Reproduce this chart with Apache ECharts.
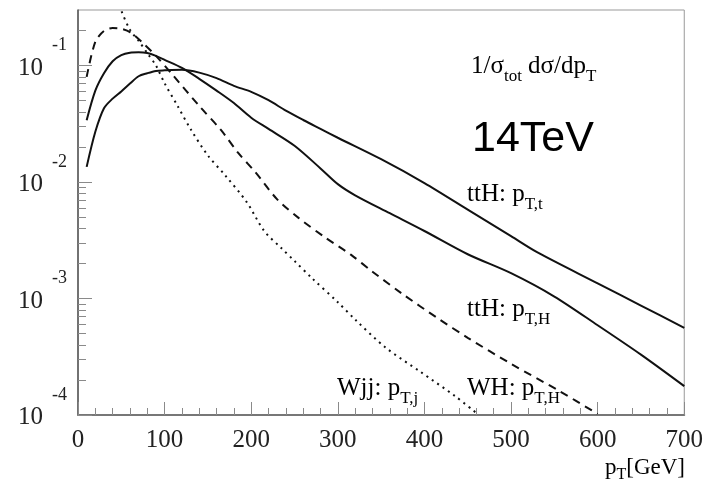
<!DOCTYPE html>
<html>
<head>
<meta charset="utf-8">
<script src="https://cdn.jsdelivr.net/npm/echarts@6/dist/echarts.min.js"></script>
<style>
  html, body { margin: 0; padding: 0; background: #fff; }
  #chart { width: 706px; height: 484px; }
</style>
</head>
<body>
<div id="chart"></div>
<script>
// ---- data ----
// ttH: p_T,t (harder solid curve)
const topX = [10, 20, 30, 40, 50, 60, 70, 80, 90, 100, 120, 140, 160, 180, 200, 220, 240, 260, 280, 300, 350, 400, 450, 500, 530, 600, 650, 700];
const topY = [0.0135, 0.027, 0.043, 0.052, 0.060, 0.070, 0.081, 0.086, 0.090, 0.091, 0.092, 0.087, 0.078, 0.067, 0.0595, 0.0504, 0.041, 0.0341, 0.0286, 0.024, 0.0157, 0.0098, 0.0058, 0.00343, 0.0025, 0.00135, 0.00087, 0.00056];
// ttH: p_T,H (softer solid curve)
const higgsX = [10, 20, 30, 40, 50, 60, 70, 80, 90, 100, 120, 140, 160, 180, 200, 220, 250, 280, 300, 320, 360, 400, 450, 500, 550, 600, 650, 700];
const higgsY = [0.034, 0.061, 0.086, 0.109, 0.123, 0.129, 0.130, 0.128, 0.121, 0.112, 0.0955, 0.077, 0.061, 0.0477, 0.0357, 0.0286, 0.0205, 0.0131, 0.0096, 0.0077, 0.0054, 0.0038, 0.0024, 0.00165, 0.00104, 0.00059, 0.00033, 0.000177];
// WH: p_T,H (dashed)
const whX = [10, 20, 30, 40, 50, 60, 75, 90, 110, 140, 165, 185, 205, 230, 255, 285, 315, 340, 375, 415, 450, 500, 555, 600];
const whY = [0.080, 0.160, 0.198, 0.210, 0.207, 0.194, 0.156, 0.121, 0.082, 0.045, 0.028, 0.0178, 0.0121, 0.0071, 0.0049, 0.00336, 0.00238, 0.00170, 0.00109, 0.00068, 0.00046, 0.000275, 0.000162, 0.000102];
// Wjj: p_T,j (dotted)
const wjjX = [45, 50, 60, 70, 80, 90, 100, 115, 130, 150, 170, 195, 215, 235, 250, 270, 300, 320, 355, 395, 435, 460];
const wjjY = [0.37, 0.295, 0.203, 0.163, 0.128, 0.100, 0.0705, 0.045, 0.0285, 0.0169, 0.0114, 0.0067, 0.0038, 0.0027, 0.0021, 0.0015, 0.00093, 0.00066, 0.00038, 0.000236, 0.000146, 0.000104];

// ticks
const xMin = 0, xMax = 700, xStep = 100;
const yMin = 0.0001, yMax = 0.3;
const yTickValues = [0.0001, 0.001, 0.01, 0.1];
const yTickExponents = ['-4', '-3', '-2', '-1'];

// ---- chart ----
const serif = '"Liberation Serif", "DejaVu Serif", "Times New Roman", serif';
const sans = '"Liberation Sans", Arial, sans-serif';
const tickGray = '#8a8a8a';

const yMinorTicks = [];
for (let e = -4; e <= -1; e++) {
  for (let k = 2; k <= 9; k++) {
    const v = k * Math.pow(10, e);
    if (v <= yMax + 1e-12) yMinorTicks.push(v);
  }
}

function pairs(xs, ys) { return xs.map((x, i) => [x, ys[i]]); }

const chart = echarts.init(document.getElementById('chart'), null, { renderer: 'canvas' });

const sub = { fontFamily: serif, fontSize: 17, lineHeight: 17, padding: [14, 0, 0, 0], verticalAlign: 'top', color: '#111' };
const main = { fontFamily: serif, fontSize: 25, lineHeight: 30, verticalAlign: 'top', color: '#111' };
const lineSmooth = 0.3;
const gridBox = { left: 78, right: 21, top: 10, bottom: 69 };

chart.setOption({
  backgroundColor: '#fff',
  animation: false,
  grid: [
    Object.assign({ show: true, borderColor: '#999', borderWidth: 1, backgroundColor: 'transparent' }, gridBox),
    Object.assign({ show: false }, gridBox)
  ],
  xAxis: [
    {
      type: 'value', gridIndex: 0, min: xMin, max: xMax, interval: xStep,
      axisLine: { show: true, lineStyle: { color: '#777', width: 2 } },
      axisTick: { show: true, inside: true, length: 13, lineStyle: { color: tickGray, width: 1 } },
      minorTick: { show: true, splitNumber: 5, length: 7, lineStyle: { color: tickGray, width: 1 } },
      axisLabel: { fontFamily: serif, fontSize: 25, color: '#222', margin: 13 },
      splitLine: { show: false }
    },
    {
      type: 'value', gridIndex: 1, min: xMin, max: xMax, interval: xStep, show: false
    }
  ],
  yAxis: [
    {
      type: 'log', gridIndex: 0, logBase: 10, min: yMin, max: yMax, position: 'left',
      axisLine: { show: true, lineStyle: { color: '#555', width: 1.5 } },
      axisTick: { show: true, inside: true, length: 14, customValues: yTickValues, lineStyle: { color: tickGray, width: 1 } },
      axisLabel: {
        customValues: yTickValues,
        margin: 11,
        formatter: function (v) {
          const idx = yTickValues.findIndex(t => Math.abs(Math.log10(t) - Math.log10(v)) < 1e-6);
          return '{b|10}{e|' + (idx >= 0 ? yTickExponents[idx] : '') + '}';
        },
        rich: {
          b: { fontFamily: serif, fontSize: 25, lineHeight: 25, padding: [5, 0, 0, 0], color: '#222', verticalAlign: 'middle' },
          e: { fontFamily: serif, fontSize: 18, lineHeight: 18, padding: [0, 0, 40, 9], color: '#222', verticalAlign: 'middle' }
        }
      },
      splitLine: { show: false }
    },
    {
      type: 'log', gridIndex: 1, logBase: 10, min: yMin, max: yMax, position: 'left',
      axisLine: { show: false },
      axisTick: { show: true, inside: true, length: 8, customValues: yMinorTicks, lineStyle: { color: tickGray, width: 1 } },
      axisLabel: { show: false },
      splitLine: { show: false }
    }
  ],
  series: [
    { name: 'ttH: pT,t', type: 'line', data: pairs(topX, topY), showSymbol: false, clip: true, smooth: lineSmooth,
      lineStyle: { color: '#111', width: 2 } },
    { name: 'ttH: pT,H', type: 'line', data: pairs(higgsX, higgsY), showSymbol: false, clip: true, smooth: lineSmooth,
      lineStyle: { color: '#111', width: 2 } },
    { name: 'WH: pT,H', type: 'line', data: pairs(whX, whY), showSymbol: false, clip: true, smooth: lineSmooth,
      lineStyle: { color: '#111', width: 2, type: [8, 6] } },
    { name: 'Wjj: pT,j', type: 'line', data: pairs(wjjX, wjjY), showSymbol: false, clip: true, smooth: lineSmooth,
      lineStyle: { color: '#111', width: 2, type: [2, 4.5] } }
  ],
  graphic: [
    { type: 'text', left: 471, top: 54, style: { text: '{m|1/σ}{s|tot}{m| dσ/dp}{s|T}', rich: { m: main, s: sub } } },
    { type: 'text', left: 472, top: 118, style: { text: '14TeV', fontFamily: sans, fontSize: 43, fill: '#000' } },
    { type: 'text', left: 467, top: 182, style: { text: '{m|ttH: p}{s|T,t}', rich: { m: main, s: sub } } },
    { type: 'text', left: 467, top: 297, style: { text: '{m|ttH: p}{s|T,H}', rich: { m: main, s: sub } } },
    { type: 'text', left: 337, top: 376, style: { text: '{m|Wjj: p}{s|T,j}', rich: { m: main, s: sub } } },
    { type: 'text', left: 467, top: 376, style: { text: '{m|WH: p}{s|T,H}', rich: { m: main, s: sub } } },
    { type: 'text', right: 21, top: 456, style: { text: '{m|p}{s|T}{m|[GeV]}', rich: {
        m: { fontFamily: serif, fontSize: 23, lineHeight: 26, verticalAlign: 'top', color: '#222' },
        s: { fontFamily: serif, fontSize: 16, lineHeight: 16, padding: [11, 0, 0, 0], verticalAlign: 'top', color: '#222' } } } }
  ]
});
</script>
</body>
</html>
